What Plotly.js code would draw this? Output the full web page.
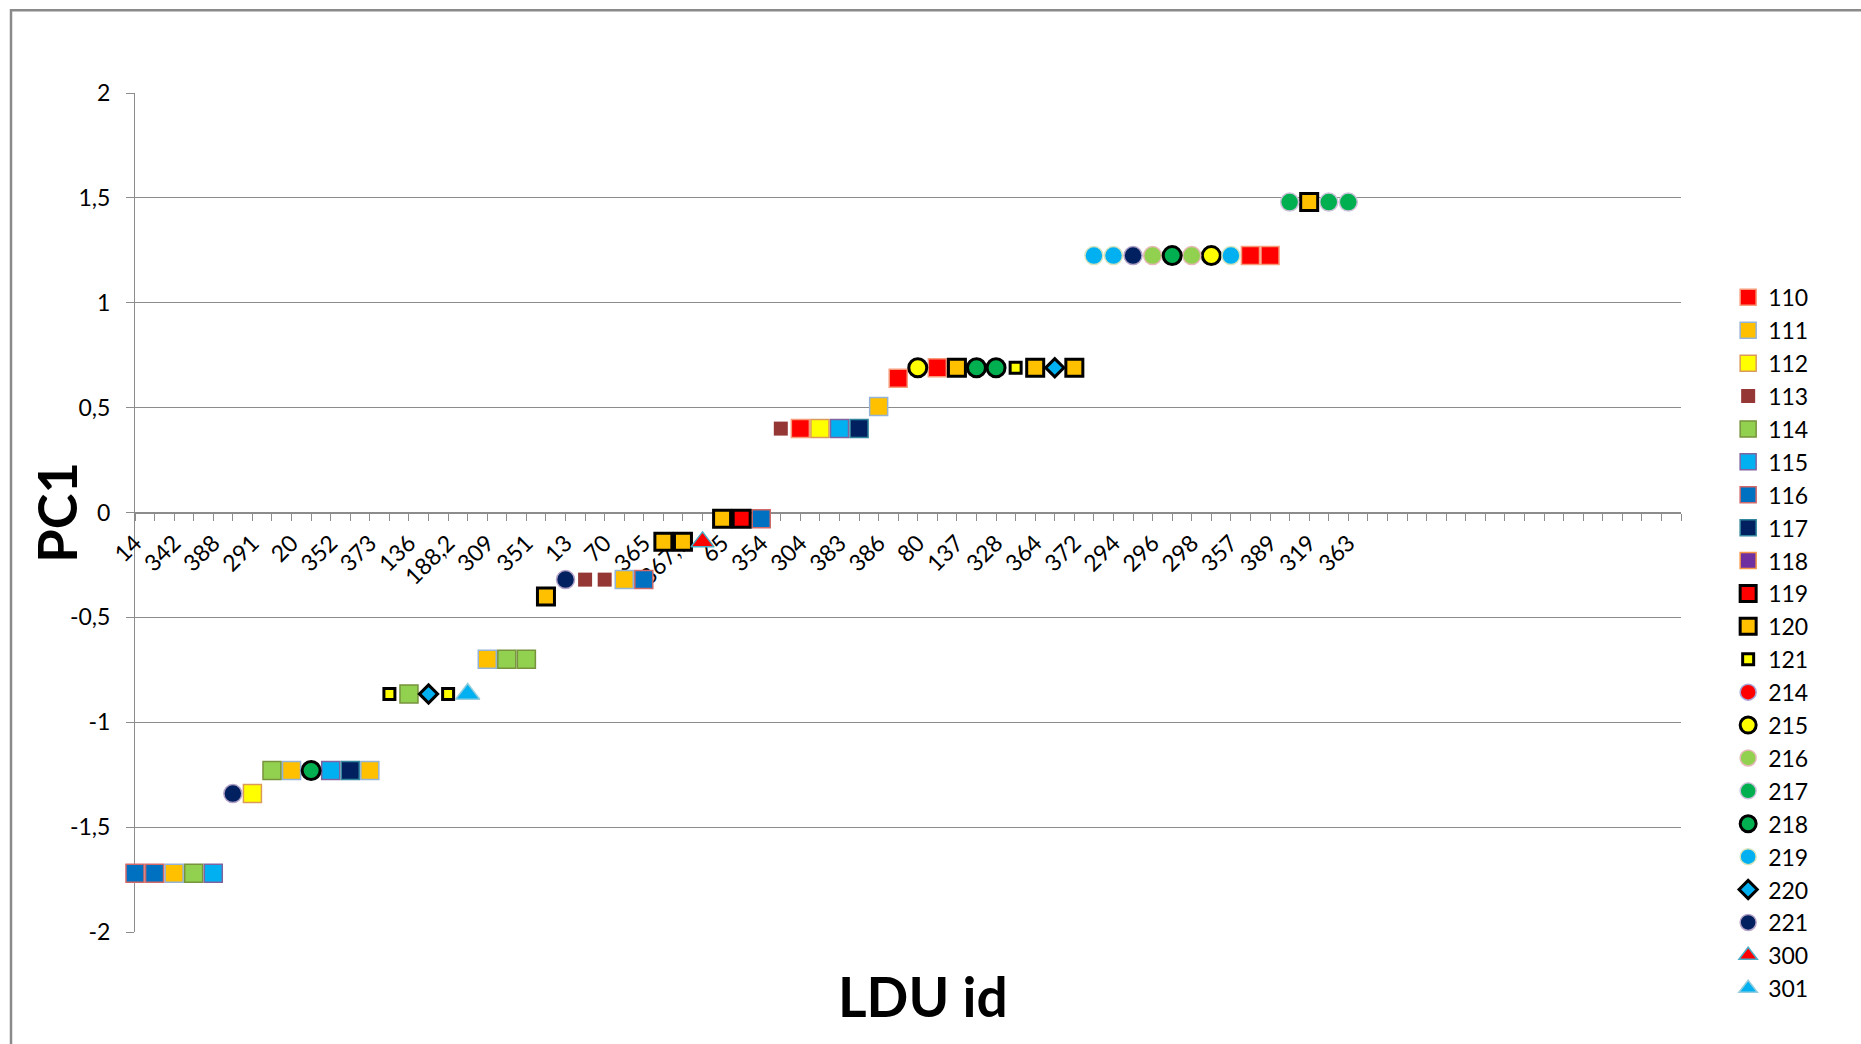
<!DOCTYPE html>
<html>
<head>
<meta charset="utf-8">
<script src="https://cdn.plot.ly/plotly-3.0.1.min.js"></script>
<style>
  html, body { margin: 0; padding: 0; background: #ffffff; }
  #chart { width: 1861px; height: 1044px; }
</style>
</head>
<body>
<div id="chart"></div>
<script>
// Series (legend entries), in legend order
const seriesIds = ['110','111','112','113','114','115','116','117','118','119','120','121',
                   '214','215','216','217','218','219','220','221','300','301'];

// Series of the point placed at each LDU position (position = array index)
const seriesAtLdu = [
  '116','116','111','114','115',
  '221','112',
  '114','111','218','115','117','111',
  '121','114','220','121','301',
  '111','114','114',
  '120',
  '221','113','113','111','116',
  '120','120','300',
  '120','119','116',
  '113','110','112','115','117',
  '111',
  '110',
  '215','110','120','218','218','121','120','220','120',
  '219','219','221','216','218','216','215','219','110','110',
  '217','120','217','217'
];

// PC1 score at each LDU position
const pc1 = [
  -1.72, -1.72, -1.72, -1.72, -1.72,
  -1.34, -1.34,
  -1.23, -1.23, -1.23, -1.23, -1.23, -1.23,
  -0.865, -0.865, -0.865, -0.865, -0.865,
  -0.70, -0.70, -0.70,
  -0.40,
  -0.32, -0.32, -0.32, -0.32, -0.32,
  -0.14, -0.14, -0.14,
  -0.03, -0.03, -0.03,
  0.40, 0.40, 0.40, 0.40, 0.40,
  0.505,
  0.64,
  0.69, 0.69, 0.69, 0.69, 0.69, 0.69, 0.69, 0.69, 0.69,
  1.225, 1.225, 1.225, 1.225, 1.225, 1.225, 1.225, 1.225, 1.225, 1.225,
  1.48, 1.48, 1.48, 1.48
];

// LDU id labels shown on the category axis (every second position)
const lduLabels = ['14','342','388','291','20','352','373','136','188,2','309','351','13',
                   '70','365','367,1','65','354','304','383','386','80','137','328','364',
                   '372','294','296','298','357','389','319','363'];

// Number of category slots on the axis
const slotCount = 80;

// Y tick labels with decimal comma
const yTickVals = [-2, -1.5, -1, -0.5, 0, 0.5, 1, 1.5, 2];
const yTickText = ['-2', '-1,5', '-1', '-0,5', '0', '0,5', '1', '1,5', '2'];

// Marker appearance for each series
const markerStyle = {
  '110': {symbol: 'square',  size: 18, color: '#FF0000', line: '#F79A7A', lw: 1.5},
  '111': {symbol: 'square',  size: 18, color: '#FFC000', line: '#95B3D7', lw: 1.5},
  '112': {symbol: 'square',  size: 18, color: '#FFFF00', line: '#D99A5B', lw: 1.5},
  '113': {symbol: 'square',  size: 14, color: '#953735', line: '#953735', lw: 0},
  '114': {symbol: 'square',  size: 18, color: '#92D050', line: '#77933C', lw: 1.5},
  '115': {symbol: 'square',  size: 18, color: '#00B0F0', line: '#8064A2', lw: 1.5},
  '116': {symbol: 'square',  size: 18, color: '#0070C0', line: '#D06868', lw: 1.5},
  '117': {symbol: 'square',  size: 18, color: '#002060', line: '#31859C', lw: 1.5},
  '118': {symbol: 'square',  size: 18, color: '#7030A0', line: '#F79646', lw: 1.5},
  '119': {symbol: 'square',  size: 17, color: '#FF0000', line: '#000000', lw: 3},
  '120': {symbol: 'square',  size: 17, color: '#FFC000', line: '#000000', lw: 3},
  '121': {symbol: 'square',  size: 11, color: '#FFFF00', line: '#000000', lw: 3},
  '214': {symbol: 'circle',  size: 18, color: '#FF0000', line: '#A6A6D8', lw: 1.5},
  '215': {symbol: 'circle',  size: 18, color: '#FFFF00', line: '#000000', lw: 3},
  '216': {symbol: 'circle',  size: 18, color: '#92D050', line: '#E6B9B8', lw: 1.5},
  '217': {symbol: 'circle',  size: 18, color: '#00B050', line: '#CCC1DA', lw: 1.5},
  '218': {symbol: 'circle',  size: 18, color: '#00B050', line: '#000000', lw: 3},
  '219': {symbol: 'circle',  size: 18, color: '#00B0F0', line: '#D7E4BD', lw: 1.5},
  '220': {symbol: 'diamond', size: 14, color: '#00B0F0', line: '#000000', lw: 3},
  '221': {symbol: 'circle',  size: 18, color: '#002060', line: '#B3A2C7', lw: 1.5},
  '300': {symbol: 'triangle-up', size: 20, color: '#FF0000', line: '#4BACC6', lw: 1.5},
  '301': {symbol: 'triangle-up', size: 21, color: '#00B0F0', line: '#93CDDD', lw: 1.5}
};

const traces = seriesIds.map(function (id) {
  const xs = [], ys = [];
  seriesAtLdu.forEach(function (s, i) {
    if (s === id) { xs.push(i); ys.push(pc1[i]); }
  });
  // series without points still keep their legend entry
  if (xs.length === 0) { xs.push(null); ys.push(null); }
  const st = markerStyle[id];
  return {
    type: 'scatter',
    mode: 'markers',
    name: id,
    x: xs,
    y: ys,
    cliponaxis: false,
    marker: {
      symbol: st.symbol,
      size: st.size,
      color: st.color,
      line: {color: st.line, width: st.lw}
    },
    hoverinfo: 'name+y'
  };
});

// Category tick marks at every slot, labels at every second LDU
const xTickVals = [], xTickText = [];
for (let i = 0; i < slotCount; i++) {
  xTickVals.push(i);
  xTickText.push(i % 2 === 0 && lduLabels[i / 2] !== undefined ? lduLabels[i / 2] : '');
}

const gridGray = '#8c8c8c';
const font = 'Lato, "Open Sans", sans-serif';

const layout = {
  width: 1861,
  height: 1044,
  margin: {l: 135, r: 180, t: 93, b: 112, pad: 0},
  paper_bgcolor: '#ffffff',
  plot_bgcolor: '#ffffff',
  font: {family: font, size: 23, color: '#000000'},
  showlegend: true,
  hovermode: 'closest',
  xaxis: {
    range: [0, slotCount - 1],
    anchor: 'free',
    position: 0.5,
    showline: true,
    linecolor: gridGray,
    linewidth: 1,
    ticks: 'outside',
    ticklen: 7,
    tickwidth: 1,
    tickcolor: gridGray,
    tickmode: 'array',
    tickvals: xTickVals,
    ticktext: xTickText,
    tickangle: -45,
    tickfont: {family: font, size: 23, color: '#000000'},
    showgrid: false,
    zeroline: false,
    layer: 'below traces',
    fixedrange: true
  },
  yaxis: {
    range: [-2, 2],
    tickmode: 'array',
    tickvals: yTickVals,
    ticktext: yTickText,
    showline: true,
    linecolor: gridGray,
    linewidth: 1,
    ticks: 'outside',
    ticklen: 8,
    tickwidth: 1,
    tickcolor: gridGray,
    ticklabelstandoff: 11,
    tickfont: {family: font, size: 23, color: '#000000'},
    showgrid: true,
    gridcolor: gridGray,
    gridwidth: 1,
    zeroline: false,
    layer: 'below traces',
    fixedrange: true
  },
  legend: {
    x: 1.0305,
    xanchor: 'left',
    y: 0.782,
    yanchor: 'top',
    font: {family: font, size: 23, color: '#000000'},
    bgcolor: 'rgba(0,0,0,0)',
    itemclick: false,
    itemdoubleclick: false,
    tracegroupgap: 0
  },
  annotations: [
    {
      text: 'PC1', xref: 'paper', yref: 'paper',
      x: -0.051, y: 0.5, xanchor: 'center', yanchor: 'middle',
      textangle: -90, showarrow: false,
      font: {family: font, size: 54, color: '#000000', weight: 'bold'}
    },
    {
      text: 'LDU id', xref: 'paper', yref: 'paper',
      x: 0.5097, y: -0.0757, xanchor: 'center', yanchor: 'middle',
      showarrow: false,
      font: {family: font, size: 55, color: '#000000', weight: 'bold'}
    }
  ],
  shapes: [
    {
      // chart-area frame (left and top edges)
      type: 'path', xref: 'paper', yref: 'paper',
      path: 'M -0.0802,-0.3 L -0.0802,1.0986 L 1.3,1.0986',
      line: {color: '#8a8a8a', width: 2.5}
    }
  ]
};

Plotly.newPlot('chart', traces, layout, {displayModeBar: false, responsive: false});
</script>
</body>
</html>
